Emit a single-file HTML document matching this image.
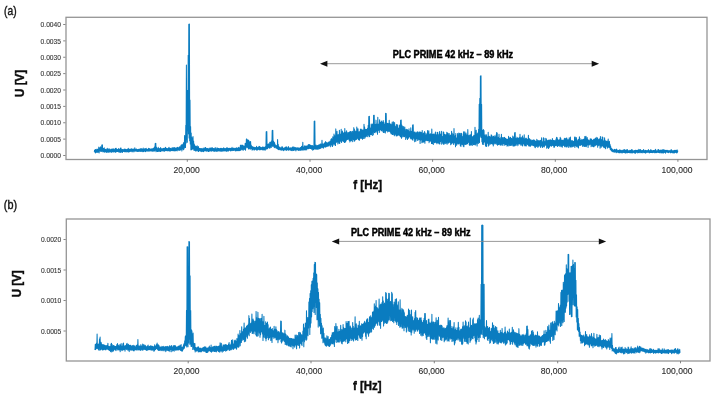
<!DOCTYPE html>
<html><head><meta charset="utf-8"><style>
html,body{margin:0;padding:0;background:#fff;}
body{width:717px;height:398px;overflow:hidden;}
svg{display:block;filter:blur(0.3px);font-family:"Liberation Sans", sans-serif;}
</style></head><body>
<svg width="717" height="398" viewBox="0 0 717 398">
<rect width="717" height="398" fill="#fff"/>
<rect x="66" y="17.3" width="641" height="142.2" fill="none" stroke="#959595" stroke-width="1.3"/>
<line x1="63.2" y1="155.5" x2="65.4" y2="155.5" stroke="#666" stroke-width="0.8"/><text x="61.00000000000001" y="158.20" font-size="7.4" text-anchor="end" fill="#383838" stroke="#383838" stroke-width="0.12" textLength="20.4" lengthAdjust="spacingAndGlyphs">0.0000</text>
<line x1="63.2" y1="139.12" x2="65.4" y2="139.12" stroke="#666" stroke-width="0.8"/><text x="61.00000000000001" y="141.82" font-size="7.4" text-anchor="end" fill="#383838" stroke="#383838" stroke-width="0.12" textLength="20.4" lengthAdjust="spacingAndGlyphs">0.0005</text>
<line x1="63.2" y1="122.75" x2="65.4" y2="122.75" stroke="#666" stroke-width="0.8"/><text x="61.00000000000001" y="125.45" font-size="7.4" text-anchor="end" fill="#383838" stroke="#383838" stroke-width="0.12" textLength="20.4" lengthAdjust="spacingAndGlyphs">0.0010</text>
<line x1="63.2" y1="106.38" x2="65.4" y2="106.38" stroke="#666" stroke-width="0.8"/><text x="61.00000000000001" y="109.08" font-size="7.4" text-anchor="end" fill="#383838" stroke="#383838" stroke-width="0.12" textLength="20.4" lengthAdjust="spacingAndGlyphs">0.0015</text>
<line x1="63.2" y1="90.0" x2="65.4" y2="90.0" stroke="#666" stroke-width="0.8"/><text x="61.00000000000001" y="92.70" font-size="7.4" text-anchor="end" fill="#383838" stroke="#383838" stroke-width="0.12" textLength="20.4" lengthAdjust="spacingAndGlyphs">0.0020</text>
<line x1="63.2" y1="73.62" x2="65.4" y2="73.62" stroke="#666" stroke-width="0.8"/><text x="61.00000000000001" y="76.32" font-size="7.4" text-anchor="end" fill="#383838" stroke="#383838" stroke-width="0.12" textLength="20.4" lengthAdjust="spacingAndGlyphs">0.0025</text>
<line x1="63.2" y1="57.25" x2="65.4" y2="57.25" stroke="#666" stroke-width="0.8"/><text x="61.00000000000001" y="59.95" font-size="7.4" text-anchor="end" fill="#383838" stroke="#383838" stroke-width="0.12" textLength="20.4" lengthAdjust="spacingAndGlyphs">0.0030</text>
<line x1="63.2" y1="40.88" x2="65.4" y2="40.88" stroke="#666" stroke-width="0.8"/><text x="61.00000000000001" y="43.58" font-size="7.4" text-anchor="end" fill="#383838" stroke="#383838" stroke-width="0.12" textLength="20.4" lengthAdjust="spacingAndGlyphs">0.0035</text>
<line x1="63.2" y1="24.5" x2="65.4" y2="24.5" stroke="#666" stroke-width="0.8"/><text x="61.00000000000001" y="27.20" font-size="7.4" text-anchor="end" fill="#383838" stroke="#383838" stroke-width="0.12" textLength="20.4" lengthAdjust="spacingAndGlyphs">0.0040</text>
<line x1="187.3" y1="159.6" x2="187.3" y2="161.79999999999998" stroke="#666" stroke-width="0.8"/><text x="186.7" y="173.2" font-size="8.3" text-anchor="middle" fill="#2a2a2a" stroke="#2a2a2a" stroke-width="0.1" textLength="26.2" lengthAdjust="spacingAndGlyphs">20,000</text>
<line x1="310.0" y1="159.6" x2="310.0" y2="161.79999999999998" stroke="#666" stroke-width="0.8"/><text x="309.2" y="173.2" font-size="8.3" text-anchor="middle" fill="#2a2a2a" stroke="#2a2a2a" stroke-width="0.1" textLength="26.2" lengthAdjust="spacingAndGlyphs">40,000</text>
<line x1="432.6" y1="159.6" x2="432.6" y2="161.79999999999998" stroke="#666" stroke-width="0.8"/><text x="431.7" y="173.2" font-size="8.3" text-anchor="middle" fill="#2a2a2a" stroke="#2a2a2a" stroke-width="0.1" textLength="26.2" lengthAdjust="spacingAndGlyphs">60,000</text>
<line x1="555.3" y1="159.6" x2="555.3" y2="161.79999999999998" stroke="#666" stroke-width="0.8"/><text x="554.2" y="173.2" font-size="8.3" text-anchor="middle" fill="#2a2a2a" stroke="#2a2a2a" stroke-width="0.1" textLength="26.2" lengthAdjust="spacingAndGlyphs">80,000</text>
<line x1="677.9" y1="159.6" x2="677.9" y2="161.79999999999998" stroke="#666" stroke-width="0.8"/><text x="677.0" y="173.2" font-size="8.3" text-anchor="middle" fill="#2a2a2a" stroke="#2a2a2a" stroke-width="0.1" textLength="30.8" lengthAdjust="spacingAndGlyphs">100,000</text>
<path d="M94.30 151.78L94.60 150.18 94.90 152.10 95.20 149.62 95.50 152.91 95.80 149.56 96.10 151.52 96.40 149.99 96.70 152.50 97.00 148.95 97.30 152.04 97.60 149.80 97.90 152.49 98.20 149.01 98.50 151.39 98.80 147.06 99.10 152.86 99.40 147.83 99.70 150.99 100.00 148.38 100.30 151.17 100.60 146.81 100.90 151.28 101.20 147.57 101.50 151.55 101.80 145.09 102.10 150.56 102.40 144.89 102.70 151.68 103.00 148.19 103.30 151.63 103.60 148.41 103.90 151.66 104.20 147.89 104.50 152.15 104.80 149.28 105.10 151.54 105.40 149.25 105.70 152.02 106.00 149.55 106.30 152.47 106.60 149.80 106.90 152.01 107.20 148.16 107.50 152.30 107.80 149.27 108.10 151.96 108.40 150.05 108.70 152.33 109.00 148.42 109.30 151.90 109.60 149.50 109.90 152.04 110.20 150.08 110.50 151.60 110.80 149.20 111.10 152.20 111.40 149.78 111.70 152.24 112.00 148.85 112.30 151.34 112.60 149.94 112.90 151.98 113.20 148.71 113.50 151.87 113.80 149.31 114.10 151.78 114.40 150.04 114.70 151.70 115.00 148.75 115.30 152.23 115.60 148.31 115.90 152.21 116.20 148.21 116.50 151.42 116.80 149.44 117.10 151.48 117.40 149.46 117.70 151.47 118.00 149.40 118.30 151.56 118.60 148.57 118.90 152.23 119.20 149.15 119.50 151.53 119.80 149.54 120.10 152.58 120.40 148.11 120.70 152.19 121.00 148.07 121.30 152.19 121.60 149.56 121.90 151.53 122.20 149.50 122.50 152.41 122.80 149.44 123.10 151.49 123.40 149.96 123.70 151.35 124.00 149.18 124.30 151.48 124.60 149.13 124.90 152.07 125.20 149.25 125.50 151.61 125.80 149.22 126.10 151.19 126.40 149.69 126.70 151.86 127.00 149.53 127.30 151.43 127.60 149.31 127.90 152.03 128.20 148.32 128.50 151.99 128.80 149.15 129.10 151.88 129.40 149.15 129.70 151.42 130.00 149.80 130.30 151.30 130.60 149.03 130.90 151.48 131.20 149.10 131.50 151.03 131.80 148.67 132.10 152.00 132.40 149.43 132.70 151.11 133.00 149.15 133.30 151.09 133.60 148.97 133.90 151.87 134.20 149.37 134.50 151.07 134.80 147.89 135.10 151.25 135.40 149.51 135.70 151.01 136.00 148.96 136.30 151.05 136.60 148.95 136.90 151.46 137.20 149.54 137.50 151.45 137.80 149.73 138.10 151.18 138.40 149.19 138.70 151.52 139.00 149.48 139.30 151.21 139.60 148.99 139.90 151.18 140.20 149.24 140.50 151.44 140.80 148.53 141.10 150.94 141.40 148.66 141.70 151.46 142.00 149.29 142.30 151.66 142.60 149.05 142.90 150.91 143.20 148.11 143.50 151.75 143.80 149.64 144.10 151.30 144.40 148.96 144.70 150.94 145.00 148.46 145.30 151.64 145.60 149.00 145.90 151.48 146.20 148.36 146.50 150.93 146.80 149.46 147.10 150.83 147.40 149.21 147.70 151.26 148.00 149.33 148.30 151.06 148.60 148.19 148.90 151.12 149.20 148.41 149.50 150.86 149.80 148.98 150.10 151.08 150.40 149.37 150.70 150.67 151.00 148.88 151.30 151.04 151.60 149.12 151.90 151.06 152.20 148.82 152.50 151.10 152.80 148.84 153.10 151.47 153.40 148.10 153.70 150.56 154.00 148.54 154.30 151.05 154.60 146.76 154.90 150.89 155.20 143.48 155.50 150.29 155.80 143.28 156.10 151.79 156.40 146.98 156.70 150.68 157.00 148.48 157.30 151.49 157.60 148.96 157.90 151.43 158.20 147.39 158.50 151.34 158.80 148.75 159.10 151.41 159.40 148.41 159.70 150.88 160.00 149.05 160.30 151.36 160.60 147.48 160.90 151.48 161.20 148.41 161.50 150.38 161.80 149.15 162.10 151.02 162.40 148.89 162.70 150.65 163.00 148.50 163.30 150.59 163.60 148.29 163.90 151.34 164.20 148.24 164.50 151.11 164.80 148.75 165.10 150.39 165.40 147.20 165.70 150.83 166.00 148.04 166.30 150.37 166.60 148.61 166.90 150.74 167.20 148.97 167.50 150.65 167.80 148.43 168.10 151.01 168.40 148.15 168.70 150.54 169.00 147.32 169.30 150.76 169.60 148.20 169.90 151.18 170.20 148.26 170.50 150.88 170.80 148.49 171.10 150.72 171.40 148.71 171.70 150.43 172.00 147.69 172.30 150.64 172.60 147.75 172.90 150.51 173.20 147.81 173.50 150.65 173.80 147.78 174.10 150.99 174.40 147.61 174.70 150.83 175.00 148.10 175.30 150.66 175.60 148.14 175.90 150.75 176.20 148.20 176.50 150.28 176.80 147.68 177.10 151.01 177.40 147.20 177.70 150.01 178.00 147.66 178.30 149.68 178.60 147.76 178.90 150.43 179.20 147.07 179.50 150.24 179.80 146.73 180.10 150.28 180.40 146.86 180.70 149.74 181.00 145.24 181.30 149.13 181.60 144.73 181.90 150.99 182.20 144.76 182.50 148.90 182.80 144.42 183.10 149.19 183.40 143.13 183.70 149.78 184.00 142.23 184.30 148.23 184.60 135.44 184.90 147.14 185.20 136.97 185.50 147.55 185.80 125.25 186.10 142.98 186.40 65.04 186.70 139.73 187.00 90.31 187.30 142.34 187.60 90.25 187.90 130.65 188.20 55.29 188.50 133.87 188.80 24.20 189.10 137.96 189.40 24.00 189.70 140.76 190.00 100.03 190.30 143.98 190.60 126.45 190.90 149.85 191.20 133.06 191.50 149.71 191.80 137.24 192.10 148.46 192.40 138.49 192.70 149.19 193.00 136.47 193.30 148.14 193.60 140.99 193.90 150.17 194.20 144.09 194.50 150.30 194.80 145.16 195.10 150.61 195.40 146.87 195.70 151.09 196.00 146.29 196.30 151.07 196.60 147.14 196.90 150.30 197.20 145.89 197.50 150.52 197.80 147.49 198.10 151.54 198.40 146.45 198.70 151.50 199.00 148.56 199.30 150.51 199.60 148.36 199.90 150.82 200.20 148.84 200.50 150.86 200.80 148.50 201.10 151.72 201.40 148.47 201.70 151.23 202.00 148.83 202.30 151.40 202.60 149.19 202.90 150.87 203.20 147.96 203.50 151.77 203.80 149.01 204.10 150.78 204.40 148.63 204.70 150.97 205.00 147.47 205.30 150.79 205.60 147.41 205.90 150.94 206.20 148.43 206.50 151.26 206.80 148.56 207.10 150.58 207.40 148.40 207.70 151.21 208.00 148.92 208.30 151.36 208.60 148.82 208.90 151.39 209.20 148.06 209.50 151.09 209.80 149.07 210.10 150.81 210.40 148.08 210.70 150.93 211.00 147.94 211.30 151.01 211.60 148.09 211.90 151.22 212.20 147.44 212.50 150.40 212.80 148.56 213.10 150.64 213.40 148.43 213.70 151.23 214.00 148.68 214.30 151.27 214.60 148.45 214.90 151.32 215.20 147.50 215.50 151.09 215.80 148.78 216.10 151.19 216.40 149.16 216.70 151.15 217.00 147.84 217.30 151.23 217.60 148.36 217.90 151.03 218.20 148.61 218.50 150.83 218.80 148.40 219.10 151.21 219.40 148.83 219.70 150.57 220.00 148.60 220.30 151.22 220.60 148.24 220.90 150.98 221.20 148.72 221.50 151.16 221.80 148.30 222.10 151.14 222.40 148.65 222.70 151.01 223.00 148.63 223.30 150.56 223.60 147.72 223.90 151.16 224.20 148.31 224.50 150.78 224.80 148.81 225.10 150.70 225.40 148.64 225.70 150.95 226.00 148.58 226.30 151.13 226.60 147.87 226.90 151.12 227.20 147.77 227.50 150.64 227.80 148.37 228.10 151.31 228.40 148.50 228.70 150.67 229.00 148.16 229.30 150.25 229.60 148.39 229.90 150.26 230.20 148.54 230.50 150.90 230.80 148.37 231.10 150.21 231.40 148.70 231.70 150.61 232.00 147.23 232.30 150.21 232.60 148.77 232.90 150.60 233.20 148.10 233.50 150.37 233.80 148.44 234.10 150.29 234.40 148.49 234.70 150.08 235.00 148.13 235.30 151.00 235.60 148.48 235.90 150.80 236.20 148.60 236.50 150.74 236.80 147.59 237.10 150.59 237.40 148.30 237.70 150.63 238.00 148.50 238.30 150.72 238.60 147.30 238.90 150.48 239.20 148.24 239.50 150.76 239.80 147.51 240.10 149.65 240.40 145.29 240.70 150.42 241.00 145.07 241.30 148.72 241.60 145.94 241.90 149.65 242.20 145.15 242.50 149.13 242.80 145.24 243.10 150.37 243.40 146.01 243.70 149.12 244.00 145.94 244.30 149.36 244.60 146.18 244.90 148.94 245.20 143.25 245.50 150.13 245.80 143.61 246.10 148.08 246.40 138.90 246.70 147.02 247.00 139.24 247.30 147.25 247.60 140.25 247.90 147.70 248.20 140.00 248.50 148.91 248.80 140.46 249.10 148.25 249.40 141.98 249.70 148.83 250.00 141.71 250.30 149.14 250.60 141.44 250.90 148.34 251.20 144.98 251.50 148.82 251.80 146.31 252.10 150.13 252.40 146.76 252.70 149.52 253.00 146.82 253.30 149.00 253.60 147.56 253.90 150.01 254.20 147.66 254.50 149.96 254.80 147.27 255.10 149.35 255.40 147.68 255.70 149.29 256.00 147.47 256.30 149.90 256.60 146.25 256.90 150.00 257.20 147.49 257.50 149.95 257.80 147.44 258.10 149.49 258.40 147.40 258.70 149.12 259.00 146.32 259.30 149.94 259.60 146.44 259.90 149.37 260.20 147.08 260.50 149.63 260.80 147.61 261.10 149.76 261.40 147.48 261.70 149.12 262.00 147.49 262.30 149.80 262.60 146.90 262.90 149.99 263.20 147.46 263.50 149.70 263.80 147.13 264.10 150.08 264.40 147.53 264.70 149.49 265.00 147.01 265.30 150.10 265.60 146.45 265.90 148.65 266.20 131.78 266.50 149.01 266.80 131.55 267.10 148.98 267.40 144.10 267.70 148.46 268.00 144.61 268.30 147.67 268.60 143.85 268.90 147.33 269.20 144.36 269.50 148.22 269.80 142.17 270.10 147.97 270.40 142.06 270.70 146.94 271.00 142.50 271.30 147.38 271.60 140.90 271.90 145.53 272.20 130.47 272.50 146.24 272.80 130.21 273.10 146.20 273.40 140.98 273.70 146.28 274.00 142.03 274.30 147.75 274.60 142.75 274.90 147.32 275.20 144.52 275.50 147.11 275.80 145.71 276.10 148.29 276.40 145.61 276.70 148.29 277.00 145.72 277.30 148.54 277.60 139.60 277.90 149.25 278.20 144.22 278.50 149.61 278.80 146.26 279.10 149.34 279.40 147.41 279.70 149.70 280.00 147.28 280.30 149.89 280.60 147.96 280.90 149.84 281.20 147.92 281.50 150.19 281.80 146.87 282.10 149.72 282.40 146.77 282.70 150.02 283.00 148.35 283.30 150.64 283.60 148.19 283.90 150.30 284.20 147.71 284.50 149.87 284.80 147.96 285.10 149.73 285.40 147.00 285.70 149.93 286.00 147.89 286.30 150.39 286.60 146.70 286.90 149.96 287.20 147.88 287.50 149.75 287.80 148.23 288.10 149.85 288.40 146.64 288.70 150.34 289.00 147.64 289.30 149.78 289.60 148.53 289.90 149.76 290.20 148.10 290.50 150.12 290.80 147.87 291.10 150.31 291.40 147.69 291.70 150.60 292.00 148.20 292.30 149.74 292.60 146.92 292.90 150.62 293.20 147.95 293.50 150.56 293.80 146.82 294.10 149.69 294.40 147.61 294.70 150.23 295.00 147.97 295.30 149.84 295.60 147.59 295.90 150.97 296.20 147.71 296.50 149.82 296.80 148.19 297.10 149.69 297.40 147.71 297.70 150.04 298.00 147.70 298.30 150.28 298.60 148.01 298.90 150.57 299.20 148.01 299.50 150.07 299.80 148.33 300.10 150.21 300.40 147.57 300.70 150.34 301.00 147.30 301.30 150.28 301.60 146.39 301.90 149.36 302.20 147.55 302.50 149.88 302.80 142.32 303.10 150.15 303.40 146.80 303.70 149.06 304.00 147.29 304.30 150.08 304.60 145.69 304.90 149.52 305.20 146.21 305.50 150.02 305.80 145.94 306.10 149.04 306.40 145.95 306.70 150.06 307.00 146.13 307.30 148.57 307.60 145.88 307.90 148.69 308.20 144.85 308.50 148.77 308.80 144.43 309.10 148.28 309.40 144.54 309.70 148.47 310.00 145.09 310.30 148.39 310.60 145.30 310.90 148.51 311.20 145.72 311.50 149.12 311.80 145.63 312.10 148.79 312.40 145.60 312.70 150.22 313.00 146.10 313.30 149.41 313.60 147.15 313.90 149.71 314.20 121.38 314.50 148.55 314.80 121.10 315.10 148.75 315.40 146.50 315.70 149.15 316.00 144.92 316.30 148.64 316.60 146.11 316.90 149.35 317.20 145.64 317.50 149.29 317.80 145.78 318.10 147.96 318.40 144.94 318.70 149.14 319.00 145.00 319.30 148.36 319.60 144.71 319.90 148.83 320.20 144.14 320.50 148.34 320.80 144.04 321.10 148.01 321.40 144.17 321.70 146.92 322.00 140.32 322.30 147.72 322.60 143.86 322.90 147.03 323.20 144.08 323.50 148.10 323.80 144.00 324.10 146.08 324.40 143.26 324.70 147.08 325.00 142.48 325.30 147.10 325.60 141.55 325.90 147.00 326.20 142.49 326.50 146.55 326.80 142.85 327.10 146.27 327.40 142.76 327.70 146.12 328.00 143.16 328.30 145.48 328.60 142.07 328.90 146.13 329.20 142.53 329.50 145.20 329.80 141.26 330.10 144.75 330.40 141.05 330.70 146.69 331.00 139.18 331.30 145.15 331.60 138.65 331.90 144.20 332.20 139.65 332.50 146.51 332.80 136.79 333.10 145.11 333.40 138.15 333.70 143.71 334.00 133.92 334.30 143.90 334.60 135.65 334.90 144.95 335.20 135.67 335.50 145.48 335.80 128.90 336.10 142.24 336.40 135.90 336.70 142.12 337.00 131.37 337.30 141.84 337.60 135.98 337.90 144.02 338.20 134.46 338.50 141.29 338.80 136.24 339.10 142.97 339.40 130.26 339.70 143.51 340.00 134.07 340.30 141.39 340.60 135.50 340.90 140.49 341.20 129.36 341.50 142.46 341.80 134.79 342.10 141.06 342.40 131.09 342.70 140.19 343.00 132.70 343.30 141.69 343.60 134.01 343.90 140.80 344.20 132.46 344.50 142.38 344.80 128.60 345.10 142.21 345.40 132.12 345.70 141.69 346.00 133.76 346.30 140.38 346.60 130.76 346.90 139.53 347.20 132.55 347.50 139.39 347.80 134.34 348.10 139.08 348.40 132.61 348.70 139.33 349.00 133.20 349.30 140.56 349.60 131.93 349.90 141.95 350.20 131.48 350.50 141.01 350.80 131.47 351.10 140.19 351.40 131.89 351.70 140.52 352.00 133.92 352.30 141.78 352.60 131.25 352.90 138.94 353.20 133.03 353.50 139.52 353.80 127.65 354.10 141.25 354.40 129.21 354.70 141.03 355.00 132.86 355.30 139.66 355.60 131.05 355.90 139.69 356.20 131.88 356.50 139.38 356.80 127.04 357.10 138.39 357.40 129.31 357.70 138.17 358.00 128.80 358.30 139.61 358.60 133.25 358.90 139.65 359.20 131.53 359.50 140.23 359.80 133.43 360.10 138.35 360.40 129.31 360.70 138.28 361.00 129.09 361.30 137.87 361.60 129.77 361.90 138.58 362.20 130.99 362.50 139.35 362.80 129.75 363.10 136.16 363.40 131.11 363.70 138.57 364.00 124.28 364.30 136.57 364.60 127.03 364.90 138.35 365.20 129.53 365.50 136.95 365.80 129.28 366.10 135.91 366.40 129.42 366.70 136.31 367.00 129.30 367.30 136.77 367.60 128.24 367.90 134.60 368.20 125.36 368.50 135.23 368.80 116.58 369.10 136.65 369.40 116.38 369.70 136.53 370.00 127.75 370.30 134.57 370.60 128.57 370.90 134.59 371.20 124.02 371.50 134.64 371.80 125.55 372.10 132.39 372.40 123.95 372.70 135.46 373.00 124.93 373.30 134.60 373.60 115.16 373.90 131.79 374.20 115.28 374.50 132.39 374.80 126.44 375.10 132.81 375.40 124.34 375.70 131.52 376.00 120.15 376.30 130.78 376.60 124.02 376.90 132.26 377.20 124.63 377.50 134.19 377.80 117.22 378.10 130.41 378.40 125.66 378.70 130.25 379.00 124.12 379.30 132.52 379.60 119.73 379.90 129.82 380.20 122.51 380.50 129.38 380.80 122.33 381.10 130.67 381.40 121.02 381.70 130.76 382.00 123.24 382.30 129.69 382.60 122.09 382.90 131.70 383.20 120.60 383.50 132.52 383.80 122.22 384.10 129.83 384.40 124.52 384.70 132.47 385.00 123.66 385.30 133.07 385.60 113.35 385.90 131.11 386.20 113.44 386.50 130.81 386.80 123.19 387.10 130.57 387.40 123.34 387.70 131.95 388.00 123.46 388.30 131.55 388.60 123.86 388.90 130.89 389.20 120.22 389.50 131.22 389.80 123.63 390.10 131.73 390.40 125.11 390.70 132.88 391.00 124.01 391.30 133.99 391.60 125.44 391.90 133.62 392.20 122.03 392.50 134.52 392.80 124.73 393.10 134.49 393.40 121.87 393.70 133.08 394.00 126.22 394.30 135.71 394.60 122.59 394.90 134.66 395.20 127.69 395.50 133.82 395.80 126.17 396.10 135.81 396.40 124.54 396.70 135.95 397.00 128.55 397.30 134.84 397.60 124.66 397.90 135.69 398.20 128.99 398.50 134.47 398.80 128.12 399.10 135.06 399.40 125.07 399.70 135.47 400.00 129.75 400.30 136.66 400.60 120.26 400.90 136.80 401.20 120.00 401.50 138.24 401.80 125.04 402.10 136.91 402.40 126.19 402.70 134.84 403.00 129.23 403.30 136.73 403.60 126.50 403.90 135.93 404.20 129.94 404.50 136.72 404.80 127.09 405.10 135.19 405.40 129.51 405.70 139.44 406.00 131.71 406.30 136.84 406.60 129.17 406.90 137.86 407.20 129.53 407.50 139.37 407.80 130.38 408.10 137.83 408.40 131.38 408.70 138.18 409.00 128.72 409.30 136.69 409.60 132.54 409.90 136.64 410.20 131.27 410.50 138.12 410.80 127.76 411.10 138.95 411.40 131.24 411.70 138.26 412.00 131.59 412.30 139.48 412.60 124.93 412.90 140.31 413.20 124.83 413.50 137.69 413.80 132.82 414.10 138.58 414.40 131.96 414.70 141.62 415.00 131.95 415.30 139.31 415.60 132.91 415.90 141.19 416.20 133.16 416.50 138.65 416.80 132.26 417.10 138.78 417.40 131.84 417.70 140.53 418.00 132.37 418.30 140.00 418.60 134.26 418.90 138.98 419.20 131.86 419.50 139.47 419.80 132.75 420.10 143.44 420.40 131.96 420.70 140.30 421.00 132.95 421.30 139.28 421.60 132.41 421.90 142.73 422.20 130.47 422.50 142.28 422.80 134.72 423.10 141.42 423.40 132.98 423.70 142.31 424.00 133.54 424.30 141.25 424.60 131.54 424.90 143.24 425.20 133.05 425.50 139.99 425.80 135.33 426.10 140.70 426.40 134.79 426.70 140.07 427.00 133.20 427.30 140.58 427.60 130.63 427.90 140.72 428.20 133.55 428.50 140.48 428.80 130.81 429.10 142.63 429.40 135.05 429.70 141.20 430.00 133.94 430.30 140.86 430.60 133.77 430.90 141.20 431.20 134.27 431.50 143.36 431.80 128.95 432.10 143.60 432.40 134.31 432.70 143.51 433.00 134.37 433.30 144.44 433.60 133.94 433.90 140.80 434.20 133.92 434.50 142.70 434.80 136.31 435.10 141.25 435.40 132.07 435.70 142.60 436.00 135.26 436.30 142.35 436.60 134.74 436.90 143.68 437.20 132.33 437.50 142.65 437.80 132.42 438.10 142.63 438.40 136.50 438.70 143.29 439.00 134.45 439.30 143.87 439.60 131.44 439.90 143.81 440.20 134.60 440.50 141.78 440.80 134.05 441.10 140.98 441.40 131.23 441.70 144.15 442.00 136.25 442.30 141.07 442.60 136.84 442.90 143.25 443.20 131.74 443.50 144.12 443.80 132.62 444.10 142.13 444.40 134.56 444.70 144.01 445.00 134.52 445.30 142.02 445.60 135.22 445.90 143.58 446.20 134.71 446.50 142.36 446.80 132.27 447.10 144.25 447.40 132.97 447.70 141.90 448.00 133.22 448.30 143.27 448.60 135.42 448.90 142.51 449.20 133.63 449.50 142.22 449.80 136.44 450.10 142.28 450.40 135.04 450.70 144.70 451.00 135.86 451.30 144.06 451.60 131.20 451.90 143.24 452.20 133.25 452.50 142.46 452.80 136.82 453.10 142.98 453.40 133.99 453.70 144.50 454.00 128.63 454.30 142.92 454.60 137.21 454.90 142.60 455.20 135.69 455.50 146.68 455.80 133.54 456.10 143.66 456.40 138.16 456.70 145.35 457.00 137.82 457.30 143.99 457.60 133.52 457.90 143.08 458.20 136.37 458.50 144.07 458.80 133.03 459.10 143.65 459.40 134.37 459.70 142.52 460.00 133.35 460.30 145.40 460.60 135.60 460.90 146.59 461.20 133.22 461.50 143.67 461.80 133.80 462.10 144.75 462.40 138.23 462.70 144.26 463.00 136.31 463.30 146.18 463.60 131.78 463.90 146.73 464.20 138.04 464.50 144.28 464.80 131.75 465.10 144.19 465.40 134.90 465.70 144.51 466.00 133.08 466.30 143.83 466.60 135.26 466.90 144.20 467.20 134.87 467.50 143.37 467.80 129.61 468.10 142.47 468.40 135.18 468.70 142.34 469.00 137.68 469.30 144.78 469.60 135.22 469.90 145.42 470.20 134.81 470.50 144.43 470.80 135.09 471.10 145.01 471.40 131.54 471.70 144.52 472.00 136.17 472.30 145.39 472.60 137.58 472.90 142.15 473.20 136.65 473.50 144.53 473.80 135.16 474.10 144.64 474.40 135.62 474.70 144.20 475.00 127.27 475.30 145.06 475.60 135.28 475.90 143.97 476.20 130.30 476.50 142.51 476.80 134.18 477.10 145.89 477.40 133.67 477.70 142.42 478.00 132.80 478.30 143.48 478.60 129.29 478.90 142.00 479.20 104.22 479.50 142.62 479.80 98.26 480.10 136.99 480.40 76.07 480.70 135.34 481.00 75.79 481.30 137.55 481.60 104.28 481.90 141.76 482.20 133.37 482.50 144.16 482.80 130.33 483.10 142.47 483.40 129.55 483.70 144.57 484.00 130.42 484.30 142.02 484.60 136.66 484.90 142.03 485.20 134.83 485.50 145.74 485.80 136.90 486.10 146.47 486.40 134.87 486.70 146.31 487.00 136.79 487.30 143.41 487.60 136.72 487.90 142.93 488.20 132.21 488.50 145.88 488.80 136.74 489.10 145.21 489.40 136.28 489.70 142.64 490.00 138.12 490.30 144.17 490.60 136.72 490.90 143.24 491.20 134.66 491.50 143.82 491.80 135.50 492.10 143.48 492.40 137.67 492.70 144.14 493.00 136.53 493.30 145.89 493.60 136.60 493.90 144.06 494.20 135.86 494.50 142.55 494.80 137.94 495.10 144.05 495.40 136.72 495.70 143.27 496.00 135.08 496.30 143.22 496.60 132.61 496.90 144.56 497.20 133.03 497.50 145.13 497.80 137.67 498.10 144.73 498.40 137.24 498.70 144.55 499.00 134.36 499.30 143.88 499.60 138.19 499.90 144.69 500.20 139.47 500.50 145.20 500.80 137.46 501.10 143.65 501.40 134.32 501.70 144.92 502.00 137.41 502.30 143.18 502.60 138.00 502.90 145.40 503.20 137.60 503.50 143.83 503.80 139.21 504.10 143.25 504.40 137.39 504.70 145.22 505.00 138.03 505.30 144.45 505.60 138.59 505.90 144.81 506.20 139.21 506.50 144.58 506.80 138.91 507.10 146.22 507.40 139.34 507.70 145.51 508.00 139.56 508.30 143.12 508.60 136.39 508.90 145.98 509.20 139.27 509.50 145.32 509.80 137.87 510.10 145.29 510.40 137.22 510.70 145.45 511.00 138.37 511.30 144.45 511.60 138.54 511.90 145.49 512.20 139.43 512.50 143.03 512.80 135.99 513.10 146.06 513.40 136.92 513.70 145.86 514.00 139.12 514.30 145.95 514.60 132.75 514.90 145.75 515.20 132.55 515.50 144.36 515.80 138.31 516.10 145.37 516.40 139.06 516.70 143.74 517.00 137.15 517.30 144.16 517.60 138.23 517.90 145.83 518.20 138.02 518.50 143.69 518.80 138.82 519.10 144.14 519.40 137.42 519.70 143.53 520.00 134.33 520.30 143.95 520.60 139.21 520.90 145.11 521.20 137.45 521.50 143.62 521.80 138.69 522.10 145.35 522.40 135.90 522.70 145.87 523.00 139.79 523.30 143.22 523.60 137.80 523.90 143.94 524.20 134.87 524.50 145.19 524.80 139.21 525.10 145.99 525.40 138.82 525.70 145.50 526.00 137.92 526.30 145.94 526.60 138.81 526.90 143.44 527.20 139.20 527.50 144.59 527.80 139.89 528.10 144.97 528.40 135.24 528.70 145.65 529.00 139.25 529.30 146.33 529.60 138.65 529.90 145.22 530.20 139.97 530.50 146.20 530.80 139.77 531.10 144.94 531.40 141.48 531.70 145.19 532.00 140.00 532.30 145.25 532.60 140.78 532.90 145.24 533.20 140.26 533.50 145.83 533.80 139.85 534.10 145.47 534.40 140.15 534.70 147.02 535.00 141.38 535.30 147.65 535.60 141.05 535.90 146.08 536.20 141.65 536.50 146.36 536.80 139.20 537.10 145.48 537.40 140.34 537.70 147.14 538.00 141.63 538.30 146.98 538.60 140.64 538.90 145.55 539.20 141.74 539.50 145.18 539.80 140.60 540.10 146.74 540.40 140.16 540.70 147.58 541.00 141.02 541.30 145.61 541.60 137.84 541.90 146.10 542.20 141.59 542.50 147.44 542.80 142.04 543.10 146.68 543.40 137.83 543.70 145.79 544.00 138.15 544.30 146.96 544.60 141.40 544.90 145.21 545.20 141.61 545.50 145.18 545.80 138.35 546.10 145.07 546.40 139.04 546.70 148.23 547.00 140.59 547.30 146.38 547.60 141.09 547.90 147.77 548.20 139.91 548.50 148.40 548.80 141.05 549.10 147.81 549.40 140.11 549.70 146.70 550.00 140.16 550.30 145.65 550.60 139.85 550.90 145.39 551.20 140.34 551.50 146.27 551.80 140.73 552.10 145.06 552.40 138.59 552.70 145.41 553.00 141.05 553.30 145.65 553.60 140.21 553.90 147.17 554.20 141.24 554.50 147.14 554.80 140.50 555.10 145.71 555.40 140.79 555.70 145.36 556.00 139.06 556.30 145.63 556.60 137.36 556.90 145.07 557.20 137.71 557.50 146.52 557.80 139.85 558.10 146.03 558.40 140.73 558.70 145.44 559.00 139.86 559.30 145.15 559.60 139.80 559.90 146.39 560.20 137.25 560.50 145.06 560.80 138.61 561.10 146.68 561.40 141.33 561.70 145.16 562.00 139.97 562.30 147.13 562.60 140.49 562.90 145.38 563.20 140.04 563.50 145.21 563.80 142.00 564.10 145.63 564.40 138.36 564.70 146.64 565.00 140.39 565.30 145.58 565.60 138.59 565.90 146.85 566.20 138.15 566.50 147.06 566.80 137.91 567.10 145.40 567.40 141.32 567.70 146.45 568.00 139.54 568.30 147.42 568.60 140.83 568.90 145.06 569.20 137.71 569.50 145.97 569.80 140.37 570.10 147.25 570.40 136.99 570.70 146.76 571.00 140.34 571.30 145.85 571.60 141.68 571.90 147.21 572.20 140.55 572.50 146.55 572.80 141.33 573.10 145.34 573.40 141.18 573.70 146.40 574.00 141.52 574.30 145.39 574.60 137.00 574.90 147.37 575.20 140.88 575.50 145.57 575.80 137.15 576.10 145.64 576.40 137.69 576.70 146.72 577.00 141.74 577.30 146.08 577.60 140.55 577.90 147.21 578.20 139.36 578.50 147.91 578.80 140.01 579.10 145.28 579.40 136.87 579.70 145.11 580.00 138.40 580.30 145.39 580.60 140.27 580.90 144.88 581.20 140.59 581.50 144.75 581.80 139.25 582.10 145.06 582.40 140.59 582.70 146.40 583.00 139.50 583.30 146.14 583.60 139.26 583.90 145.06 584.20 139.05 584.50 146.44 584.80 136.59 585.10 145.83 585.40 137.27 585.70 146.44 586.00 136.39 586.30 146.77 586.60 140.75 586.90 145.35 587.20 137.50 587.50 144.29 587.80 139.18 588.10 147.55 588.40 140.34 588.70 144.64 589.00 140.54 589.30 145.00 589.60 141.02 589.90 144.16 590.20 138.80 590.50 144.22 590.80 138.96 591.10 146.64 591.40 138.92 591.70 144.19 592.00 140.37 592.30 146.47 592.60 140.29 592.90 145.28 593.20 139.97 593.50 146.72 593.80 139.36 594.10 146.65 594.40 138.98 594.70 145.16 595.00 139.07 595.30 145.73 595.60 137.93 595.90 144.64 596.20 140.63 596.50 144.65 596.80 137.22 597.10 145.05 597.40 137.90 597.70 147.29 598.00 139.37 598.30 145.17 598.60 140.21 598.90 145.56 599.20 138.82 599.50 144.40 599.80 139.88 600.10 148.13 600.40 136.58 600.70 145.21 601.00 139.62 601.30 147.23 601.60 140.05 601.90 145.31 602.20 136.90 602.50 145.83 602.80 137.31 603.10 146.55 603.40 140.74 603.70 147.29 604.00 141.33 604.30 147.67 604.60 137.76 604.90 147.27 605.20 140.26 605.50 148.63 605.80 141.66 606.10 146.52 606.40 141.31 606.70 145.82 607.00 141.13 607.30 148.19 607.60 142.16 607.90 147.30 608.20 139.03 608.50 147.19 608.80 142.99 609.10 147.30 609.40 141.23 609.70 147.78 610.00 144.27 610.30 149.61 610.60 145.92 610.90 150.05 611.20 148.00 611.50 150.98 611.80 148.78 612.10 151.23 612.40 149.30 612.70 151.76 613.00 149.93 613.30 151.89 613.60 150.09 613.90 151.66 614.20 149.47 614.50 152.13 614.80 149.32 615.10 152.08 615.40 149.82 615.70 151.71 616.00 150.00 616.30 152.82 616.60 149.10 616.90 152.03 617.20 149.96 617.50 152.08 617.80 150.66 618.10 152.73 618.40 150.46 618.70 152.11 619.00 150.17 619.30 152.82 619.60 149.80 619.90 152.80 620.20 150.45 620.50 152.24 620.80 150.05 621.10 152.90 621.40 150.85 621.70 152.32 622.00 150.50 622.30 152.86 622.60 150.44 622.90 152.25 623.20 149.88 623.50 152.49 623.80 150.94 624.10 152.69 624.40 149.57 624.70 152.40 625.00 150.36 625.30 152.91 625.60 150.70 625.90 153.05 626.20 149.65 626.50 152.24 626.80 150.63 627.10 152.86 627.40 149.56 627.70 152.44 628.00 150.65 628.30 152.38 628.60 150.85 628.90 152.46 629.20 150.26 629.50 152.60 629.80 150.99 630.10 152.88 630.40 150.32 630.70 152.51 631.00 150.60 631.30 152.85 631.60 149.56 631.90 152.78 632.20 149.76 632.50 152.90 632.80 150.70 633.10 152.75 633.40 150.79 633.70 152.31 634.00 150.78 634.30 152.64 634.60 150.48 634.90 153.16 635.20 150.37 635.50 153.11 635.80 150.26 636.10 152.33 636.40 150.56 636.70 152.24 637.00 150.30 637.30 152.92 637.60 150.32 637.90 152.09 638.20 150.73 638.50 152.76 638.80 149.37 639.10 152.07 639.40 150.67 639.70 152.78 640.00 149.62 640.30 152.81 640.60 149.66 640.90 152.07 641.20 150.84 641.50 152.57 641.80 150.57 642.10 153.03 642.40 150.51 642.70 152.15 643.00 150.40 643.30 152.10 643.60 149.41 643.90 152.77 644.20 150.97 644.50 152.37 644.80 150.48 645.10 152.82 645.40 150.33 645.70 153.15 646.00 150.54 646.30 152.12 646.60 150.65 646.90 152.38 647.20 150.62 647.50 152.21 647.80 151.09 648.10 152.33 648.40 149.45 648.70 152.18 649.00 150.92 649.30 152.85 649.60 150.52 649.90 152.71 650.20 150.47 650.50 152.44 650.80 149.59 651.10 152.39 651.40 150.40 651.70 152.44 652.00 150.51 652.30 152.64 652.60 150.90 652.90 152.57 653.20 150.61 653.50 152.35 653.80 150.44 654.10 152.12 654.40 150.48 654.70 152.84 655.00 150.01 655.30 152.81 655.60 149.35 655.90 152.43 656.20 150.72 656.50 152.78 656.80 150.72 657.10 152.43 657.40 150.95 657.70 152.07 658.00 149.52 658.30 152.58 658.60 149.59 658.90 152.20 659.20 150.74 659.50 152.76 659.80 150.39 660.10 152.90 660.40 150.51 660.70 152.08 661.00 149.89 661.30 152.63 661.60 150.61 661.90 152.86 662.20 150.50 662.50 152.26 662.80 149.64 663.10 153.24 663.40 149.81 663.70 152.61 664.00 149.85 664.30 152.39 664.60 150.30 664.90 152.18 665.20 150.26 665.50 153.16 665.80 150.50 666.10 152.14 666.40 150.27 666.70 152.07 667.00 150.71 667.30 152.24 667.60 150.29 667.90 152.51 668.20 150.92 668.50 152.67 668.80 150.61 669.10 152.10 669.40 150.99 669.70 152.10 670.00 150.64 670.30 152.77 670.60 150.52 670.90 152.62 671.20 149.41 671.50 152.28 671.80 150.43 672.10 152.74 672.40 150.74 672.70 152.78 673.00 150.86 673.30 152.92 673.60 150.76 673.90 152.77 674.20 150.31 674.50 152.92 674.80 150.53 675.10 152.32 675.40 150.33 675.70 152.36 676.00 150.42 676.30 152.79 676.60 150.32 676.90 152.90 677.20 149.90 677.50 152.23 677.80 150.54" fill="none" stroke="#0a7cc0" stroke-width="1.05" stroke-linejoin="round"/>
<rect x="66.3" y="219" width="643.7" height="142" fill="none" stroke="#959595" stroke-width="1.3"/>
<line x1="63.5" y1="331.0" x2="65.7" y2="331.0" stroke="#666" stroke-width="0.8"/><text x="61.300000000000004" y="333.70" font-size="7.4" text-anchor="end" fill="#383838" stroke="#383838" stroke-width="0.12" textLength="20.4" lengthAdjust="spacingAndGlyphs">0.0005</text>
<line x1="63.5" y1="300.5" x2="65.7" y2="300.5" stroke="#666" stroke-width="0.8"/><text x="61.300000000000004" y="303.20" font-size="7.4" text-anchor="end" fill="#383838" stroke="#383838" stroke-width="0.12" textLength="20.4" lengthAdjust="spacingAndGlyphs">0.0010</text>
<line x1="63.5" y1="270.0" x2="65.7" y2="270.0" stroke="#666" stroke-width="0.8"/><text x="61.300000000000004" y="272.70" font-size="7.4" text-anchor="end" fill="#383838" stroke="#383838" stroke-width="0.12" textLength="20.4" lengthAdjust="spacingAndGlyphs">0.0015</text>
<line x1="63.5" y1="239.5" x2="65.7" y2="239.5" stroke="#666" stroke-width="0.8"/><text x="61.300000000000004" y="242.20" font-size="7.4" text-anchor="end" fill="#383838" stroke="#383838" stroke-width="0.12" textLength="20.4" lengthAdjust="spacingAndGlyphs">0.0020</text>
<line x1="188.2" y1="361.1" x2="188.2" y2="363.3" stroke="#666" stroke-width="0.8"/><text x="186.5" y="373.9" font-size="8.3" text-anchor="middle" fill="#2a2a2a" stroke="#2a2a2a" stroke-width="0.1" textLength="26.2" lengthAdjust="spacingAndGlyphs">20,000</text>
<line x1="311.0" y1="361.1" x2="311.0" y2="363.3" stroke="#666" stroke-width="0.8"/><text x="309.1" y="373.9" font-size="8.3" text-anchor="middle" fill="#2a2a2a" stroke="#2a2a2a" stroke-width="0.1" textLength="26.2" lengthAdjust="spacingAndGlyphs">40,000</text>
<line x1="434.3" y1="361.1" x2="434.3" y2="363.3" stroke="#666" stroke-width="0.8"/><text x="431.5" y="373.9" font-size="8.3" text-anchor="middle" fill="#2a2a2a" stroke="#2a2a2a" stroke-width="0.1" textLength="26.2" lengthAdjust="spacingAndGlyphs">60,000</text>
<line x1="557.7" y1="361.1" x2="557.7" y2="363.3" stroke="#666" stroke-width="0.8"/><text x="553.9" y="373.9" font-size="8.3" text-anchor="middle" fill="#2a2a2a" stroke="#2a2a2a" stroke-width="0.1" textLength="26.2" lengthAdjust="spacingAndGlyphs">80,000</text>
<line x1="680.5" y1="361.1" x2="680.5" y2="363.3" stroke="#666" stroke-width="0.8"/><text x="677.0" y="373.9" font-size="8.3" text-anchor="middle" fill="#2a2a2a" stroke="#2a2a2a" stroke-width="0.1" textLength="30.8" lengthAdjust="spacingAndGlyphs">100,000</text>
<path d="M95.00 350.01L95.30 344.17 95.60 349.60 95.90 344.22 96.20 348.75 96.50 343.12 96.80 348.16 97.10 333.97 97.40 348.72 97.70 344.44 98.00 347.56 98.30 343.95 98.60 350.00 98.90 343.94 99.20 347.40 99.50 339.01 99.80 350.22 100.10 337.05 100.40 349.66 100.70 342.13 101.00 349.81 101.30 342.68 101.60 348.39 101.90 344.62 102.20 349.53 102.50 344.88 102.80 350.29 103.10 344.41 103.40 349.54 103.70 344.95 104.00 349.68 104.30 345.23 104.60 349.11 104.90 345.15 105.20 349.47 105.50 345.83 105.80 349.88 106.10 346.16 106.40 349.27 106.70 345.63 107.00 349.00 107.30 345.20 107.60 349.23 107.90 343.38 108.20 349.40 108.50 346.57 108.80 349.89 109.10 346.35 109.40 350.60 109.70 346.76 110.00 349.57 110.30 346.63 110.60 351.68 110.90 344.10 111.20 350.47 111.50 343.31 111.80 351.98 112.10 344.50 112.40 349.54 112.70 346.56 113.00 351.35 113.30 345.45 113.60 350.64 113.90 345.50 114.20 349.79 114.50 346.15 114.80 349.06 115.10 346.53 115.40 350.01 115.70 346.49 116.00 350.76 116.30 345.97 116.60 348.89 116.90 344.46 117.20 348.92 117.50 343.41 117.80 349.86 118.10 345.07 118.40 349.32 118.70 345.68 119.00 350.09 119.30 346.26 119.60 349.69 119.90 344.50 120.20 351.67 120.50 346.59 120.80 349.21 121.10 343.62 121.40 349.77 121.70 346.35 122.00 350.65 122.30 345.94 122.60 349.87 122.90 343.81 123.20 349.89 123.50 343.11 123.80 349.58 124.10 345.65 124.40 349.43 124.70 346.80 125.00 351.19 125.30 345.55 125.60 348.89 125.90 345.86 126.20 349.27 126.50 344.05 126.80 349.59 127.10 343.19 127.40 349.24 127.70 345.89 128.00 350.35 128.30 344.34 128.60 349.01 128.90 345.12 129.20 351.60 129.50 345.47 129.80 349.84 130.10 345.36 130.40 349.38 130.70 345.17 131.00 350.42 131.30 346.25 131.60 349.30 131.90 346.05 132.20 350.14 132.50 345.49 132.80 349.03 133.10 346.62 133.40 350.80 133.70 345.33 134.00 351.00 134.30 345.81 134.60 350.09 134.90 346.76 135.20 349.82 135.50 346.82 135.80 349.76 136.10 345.61 136.40 349.66 136.70 345.52 137.00 350.20 137.30 344.43 137.60 348.90 137.90 339.56 138.20 349.66 138.50 345.72 138.80 350.02 139.10 346.57 139.40 350.07 139.70 345.90 140.00 349.21 140.30 346.15 140.60 350.43 140.90 344.65 141.20 350.00 141.50 345.96 141.80 348.87 142.10 346.23 142.40 350.31 142.70 344.12 143.00 350.09 143.30 346.26 143.60 349.16 143.90 344.43 144.20 349.55 144.50 346.42 144.80 349.18 145.10 345.33 145.40 349.63 145.70 346.04 146.00 349.63 146.30 346.71 146.60 350.54 146.90 346.86 147.20 350.06 147.50 346.14 147.80 350.12 148.10 345.09 148.40 349.46 148.70 347.19 149.00 349.75 149.30 346.32 149.60 349.46 149.90 346.65 150.20 349.90 150.50 345.84 150.80 348.97 151.10 346.18 151.40 350.13 151.70 345.93 152.00 349.00 152.30 346.33 152.60 350.22 152.90 346.65 153.20 349.22 153.50 346.69 153.80 351.24 154.10 346.56 154.40 350.90 154.70 344.68 155.00 349.32 155.30 346.05 155.60 349.67 155.90 345.92 156.20 348.58 156.50 344.58 156.80 348.54 157.10 343.13 157.40 349.30 157.70 344.73 158.00 350.08 158.30 344.74 158.60 350.40 158.90 345.16 159.20 350.54 159.50 346.70 159.80 350.20 160.10 347.07 160.40 349.58 160.70 346.95 161.00 350.70 161.30 347.46 161.60 349.35 161.90 346.39 162.20 350.69 162.50 346.85 162.80 349.67 163.10 347.20 163.40 350.30 163.70 346.36 164.00 351.06 164.30 346.99 164.60 349.69 164.90 347.25 165.20 350.25 165.50 346.53 165.80 351.65 166.10 346.51 166.40 349.49 166.70 347.08 167.00 350.50 167.30 346.24 167.60 349.90 167.90 347.10 168.20 350.61 168.50 346.79 168.80 350.84 169.10 346.90 169.40 349.93 169.70 345.65 170.00 351.74 170.30 346.30 170.60 349.39 170.90 347.63 171.20 349.43 171.50 345.57 171.80 351.78 172.10 347.52 172.40 350.70 172.70 346.72 173.00 349.48 173.30 345.47 173.60 350.73 173.90 346.55 174.20 351.33 174.50 345.57 174.80 349.42 175.10 345.42 175.40 349.86 175.70 346.25 176.00 350.41 176.30 347.27 176.60 349.41 176.90 347.18 177.20 349.85 177.50 346.85 177.80 349.88 178.10 346.66 178.40 350.00 178.70 346.12 179.00 349.60 179.30 346.52 179.60 349.28 179.90 345.39 180.20 350.17 180.50 346.40 180.80 350.38 181.10 344.50 181.40 350.57 181.70 347.46 182.00 351.47 182.30 347.17 182.60 350.79 182.90 346.75 183.20 349.42 183.50 344.84 183.80 348.56 184.10 343.57 184.40 348.12 184.70 340.66 185.00 345.92 185.30 336.44 185.60 344.94 185.90 335.17 186.20 345.70 186.50 310.35 186.80 346.92 187.10 246.74 187.40 344.71 187.70 246.65 188.00 346.80 188.30 285.44 188.60 342.88 188.90 241.61 189.20 339.33 189.50 241.77 189.80 344.30 190.10 275.70 190.40 343.88 190.70 310.40 191.00 346.13 191.30 329.55 191.60 346.37 191.90 330.79 192.20 344.68 192.50 334.56 192.80 349.56 193.10 332.98 193.40 346.92 193.70 342.92 194.00 349.22 194.30 343.76 194.60 349.86 194.90 343.60 195.20 351.91 195.50 347.22 195.80 350.23 196.10 347.66 196.40 351.13 196.70 348.45 197.00 350.32 197.30 347.10 197.60 350.74 197.90 348.09 198.20 352.05 198.50 346.71 198.80 351.81 199.10 348.45 199.40 351.48 199.70 348.11 200.00 352.04 200.30 348.10 200.60 351.11 200.90 348.46 201.20 351.85 201.50 349.06 201.80 351.23 202.10 347.98 202.40 350.47 202.70 348.38 203.00 350.96 203.30 347.30 203.60 351.23 203.90 347.99 204.20 350.83 204.50 346.86 204.80 351.59 205.10 347.60 205.40 350.59 205.70 346.70 206.00 352.38 206.30 348.29 206.60 352.55 206.90 348.06 207.20 352.52 207.50 348.06 207.80 352.11 208.10 347.91 208.40 351.23 208.70 347.55 209.00 350.76 209.30 345.97 209.60 350.52 209.90 347.44 210.20 351.53 210.50 347.63 210.80 351.20 211.10 344.96 211.40 352.16 211.70 348.30 212.00 350.87 212.30 347.22 212.60 351.34 212.90 346.86 213.20 350.89 213.50 346.85 213.80 351.22 214.10 346.31 214.40 351.57 214.70 346.29 215.00 351.51 215.30 347.58 215.60 351.16 215.90 345.99 216.20 351.88 216.50 346.21 216.80 351.27 217.10 346.84 217.40 350.06 217.70 346.64 218.00 350.76 218.30 346.55 218.60 351.60 218.90 346.02 219.20 351.28 219.50 345.89 219.80 352.30 220.10 342.77 220.40 350.26 220.70 346.67 221.00 351.26 221.30 343.24 221.60 350.24 221.90 346.71 222.20 352.22 222.50 346.75 222.80 349.97 223.10 344.79 223.40 351.19 223.70 346.14 224.00 350.53 224.30 344.84 224.60 350.38 224.90 345.81 225.20 350.10 225.50 344.57 225.80 351.11 226.10 344.50 226.40 350.37 226.70 345.52 227.00 350.59 227.30 345.57 227.60 349.37 227.90 345.40 228.20 348.75 228.50 343.91 228.80 349.62 229.10 342.44 229.40 350.54 229.70 344.97 230.00 348.34 230.30 345.35 230.60 349.91 230.90 343.98 231.20 347.93 231.50 340.25 231.80 349.73 232.10 344.61 232.40 347.74 232.70 339.70 233.00 348.61 233.30 344.37 233.60 349.48 233.90 343.85 234.20 348.56 234.50 340.83 234.80 347.76 235.10 339.98 235.40 348.05 235.70 341.10 236.00 348.05 236.30 341.96 236.60 349.24 236.90 338.57 237.20 347.12 237.50 339.11 237.80 346.42 238.10 333.94 238.40 347.18 238.70 335.87 239.00 346.78 239.30 335.43 239.60 342.74 239.90 330.57 240.20 345.78 240.50 334.70 240.80 342.85 241.10 333.23 241.40 342.39 241.70 326.80 242.00 340.59 242.30 332.46 242.60 338.04 242.90 331.41 243.20 339.73 243.50 328.92 243.80 339.12 244.10 323.09 244.40 341.72 244.70 329.05 245.00 338.41 245.30 327.84 245.60 341.16 245.90 328.59 246.20 336.94 246.50 326.33 246.80 334.79 247.10 325.90 247.40 338.23 247.70 325.41 248.00 334.94 248.30 323.98 248.60 333.28 248.90 315.65 249.20 335.82 249.50 318.61 249.80 330.96 250.10 324.77 250.40 332.54 250.70 323.47 251.00 330.31 251.30 322.70 251.60 331.23 251.90 314.12 252.20 333.39 252.50 321.94 252.80 333.30 253.10 319.13 253.40 331.55 253.70 320.88 254.00 333.79 254.30 323.70 254.60 330.66 254.90 321.22 255.20 331.20 255.50 320.93 255.80 334.74 256.10 311.40 256.40 335.41 256.70 317.76 257.00 336.51 257.30 322.12 257.60 330.92 257.90 312.15 258.20 335.63 258.50 318.18 258.80 330.93 259.10 319.68 259.40 332.94 259.70 318.45 260.00 337.32 260.30 318.41 260.60 334.72 260.90 321.91 261.20 331.51 261.50 318.24 261.80 331.87 262.10 314.27 262.40 333.85 262.70 321.54 263.00 340.46 263.30 322.25 263.60 336.99 263.90 316.21 264.20 334.28 264.50 325.31 264.80 337.56 265.10 325.55 265.40 338.27 265.70 321.88 266.00 340.86 266.30 323.85 266.60 338.17 266.90 323.21 267.20 337.39 267.50 321.93 267.80 335.24 268.10 324.83 268.40 339.68 268.70 329.00 269.00 337.48 269.30 328.80 269.60 337.94 269.90 327.76 270.20 336.00 270.50 326.96 270.80 340.52 271.10 329.24 271.40 336.32 271.70 329.90 272.00 342.52 272.30 328.42 272.60 337.02 272.90 330.48 273.20 336.58 273.50 331.29 273.80 338.30 274.10 326.39 274.40 336.82 274.70 329.97 275.00 337.87 275.30 329.22 275.60 337.07 275.90 326.72 276.20 339.68 276.50 329.73 276.80 339.73 277.10 330.89 277.40 337.85 277.70 332.51 278.00 342.63 278.30 331.83 278.60 338.43 278.90 331.47 279.20 339.72 279.50 332.81 279.80 338.75 280.10 332.97 280.40 338.46 280.70 321.05 281.00 341.77 281.30 321.32 281.60 343.07 281.90 332.99 282.20 341.64 282.50 332.85 282.80 340.18 283.10 332.91 283.40 340.09 283.70 334.09 284.00 341.06 284.30 333.71 284.60 341.44 284.90 330.15 285.20 344.53 285.50 333.90 285.80 342.71 286.10 334.78 286.40 344.85 286.70 337.70 287.00 344.92 287.30 335.72 287.60 342.77 287.90 336.28 288.20 345.45 288.50 337.35 288.80 345.86 289.10 338.99 289.40 346.14 289.70 338.25 290.00 344.77 290.30 339.20 290.60 346.40 290.90 338.26 291.20 347.02 291.50 338.49 291.80 344.85 292.10 339.95 292.40 345.37 292.70 338.84 293.00 348.67 293.30 338.99 293.60 345.66 293.90 338.97 294.20 345.88 294.50 339.68 294.80 347.31 295.10 334.93 295.40 344.78 295.70 337.90 296.00 345.30 296.30 334.93 296.60 348.71 296.90 337.63 297.20 344.42 297.50 335.53 297.80 344.87 298.10 339.32 298.40 345.49 298.70 332.48 299.00 343.77 299.30 332.27 299.60 347.96 299.90 339.13 300.20 343.78 300.50 332.67 300.80 342.89 301.10 334.79 301.40 344.27 301.70 334.87 302.00 345.41 302.30 335.23 302.60 341.39 302.90 331.11 303.20 339.69 303.50 324.08 303.80 346.76 304.10 328.16 304.40 341.74 304.70 327.79 305.00 339.82 305.30 323.10 305.60 337.62 305.90 323.17 306.20 340.19 306.50 310.73 306.80 339.20 307.10 319.30 307.40 334.52 307.70 317.48 308.00 335.68 308.30 317.51 308.60 328.00 308.90 301.97 309.20 324.85 309.50 298.44 309.80 334.57 310.10 293.55 310.40 327.30 310.70 290.89 311.00 323.04 311.30 284.78 311.60 316.87 311.90 281.33 312.20 311.52 312.50 281.14 312.80 308.77 313.10 278.17 313.40 306.86 313.70 273.08 314.00 312.43 314.30 264.50 314.60 306.46 314.90 262.20 315.20 314.45 315.50 262.59 315.80 302.58 316.10 273.83 316.40 307.58 316.70 274.63 317.00 319.66 317.30 282.98 317.60 319.27 317.90 288.66 318.20 327.11 318.50 292.43 318.80 320.96 319.10 299.21 319.40 325.75 319.70 302.86 320.00 326.25 320.30 314.31 320.60 333.82 320.90 318.23 321.20 332.93 321.50 323.19 321.80 338.23 322.10 325.72 322.40 337.38 322.70 329.76 323.00 342.78 323.30 328.08 323.60 340.96 323.90 333.35 324.20 342.25 324.50 338.06 324.80 344.24 325.10 337.87 325.40 345.69 325.70 338.65 326.00 344.69 326.30 339.15 326.60 346.19 326.90 335.77 327.20 345.08 327.50 338.73 327.80 345.17 328.10 336.41 328.40 345.65 328.70 340.61 329.00 346.18 329.30 339.27 329.60 346.53 329.90 339.62 330.20 345.50 330.50 337.82 330.80 344.20 331.10 337.19 331.40 342.53 331.70 335.05 332.00 343.72 332.30 332.49 332.60 343.48 332.90 333.69 333.20 343.89 333.50 332.61 333.80 342.82 334.10 331.96 334.40 346.59 334.70 326.42 335.00 342.07 335.30 332.36 335.60 338.65 335.90 323.43 336.20 339.40 336.50 329.43 336.80 342.55 337.10 326.40 337.40 341.13 337.70 331.75 338.00 341.71 338.30 331.98 338.60 341.94 338.90 329.25 339.20 338.26 339.50 331.76 339.80 342.10 340.10 330.94 340.40 338.67 340.70 325.16 341.00 340.97 341.30 331.08 341.60 343.16 341.90 329.47 342.20 343.85 342.50 330.54 342.80 341.41 343.10 324.55 343.40 341.01 343.70 327.86 344.00 341.16 344.30 329.12 344.60 340.36 344.90 328.57 345.20 339.57 345.50 328.28 345.80 341.85 346.10 321.49 346.40 338.12 346.70 323.61 347.00 339.02 347.30 323.63 347.60 343.37 347.90 321.53 348.20 342.38 348.50 321.65 348.80 342.72 349.10 321.32 349.40 340.61 349.70 330.68 350.00 340.30 350.30 326.03 350.60 337.62 350.90 327.87 351.20 338.40 351.50 330.46 351.80 340.52 352.10 327.97 352.40 339.20 352.70 322.50 353.00 339.23 353.30 326.46 353.60 340.94 353.90 329.36 354.20 338.25 354.50 327.86 354.80 337.98 355.10 316.66 355.40 339.93 355.70 323.96 356.00 339.68 356.30 323.78 356.60 339.40 356.90 327.94 357.20 338.49 357.50 328.96 357.80 340.50 358.10 325.15 358.40 335.04 358.70 328.70 359.00 335.07 359.30 321.36 359.60 337.17 359.90 326.57 360.20 338.51 360.50 325.67 360.80 338.21 361.10 326.19 361.40 334.19 361.70 323.84 362.00 340.25 362.30 324.23 362.60 336.37 362.90 324.42 363.20 333.29 363.50 323.78 363.80 332.96 364.10 322.75 364.40 331.80 364.70 321.34 365.00 331.94 365.30 322.93 365.60 336.22 365.90 322.96 366.20 338.68 366.50 319.95 366.80 332.74 367.10 319.01 367.40 332.81 367.70 318.85 368.00 333.96 368.30 322.73 368.60 336.20 368.90 322.39 369.20 333.21 369.50 316.79 369.80 332.50 370.10 318.26 370.40 332.06 370.70 315.80 371.00 327.58 371.30 317.96 371.60 331.87 371.90 317.44 372.20 325.60 372.50 312.02 372.80 328.59 373.10 313.14 373.40 329.14 373.70 311.03 374.00 325.83 374.30 303.67 374.60 327.28 374.90 308.27 375.20 325.48 375.50 306.05 375.80 323.90 376.10 300.50 376.40 323.26 376.70 307.50 377.00 322.55 377.30 307.74 377.60 325.16 377.90 309.08 378.20 320.42 378.50 308.77 378.80 321.65 379.10 298.99 379.40 325.29 379.70 309.70 380.00 321.43 380.30 304.70 380.60 328.36 380.90 304.03 381.20 321.47 381.50 304.31 381.80 321.49 382.10 302.28 382.40 319.62 382.70 296.81 383.00 320.48 383.30 301.03 383.60 325.92 383.90 305.21 384.20 321.57 384.50 303.13 384.80 323.15 385.10 304.43 385.40 322.40 385.70 292.60 386.00 322.23 386.30 293.29 386.60 323.58 386.90 299.38 387.20 323.21 387.50 301.90 387.80 322.10 388.10 298.99 388.40 320.18 388.70 293.29 389.00 319.56 389.30 293.40 389.60 315.48 389.90 304.10 390.20 320.76 390.50 301.40 390.80 316.68 391.10 301.99 391.40 320.39 391.70 292.16 392.00 319.10 392.30 293.84 392.60 321.42 392.90 304.57 393.20 320.74 393.50 308.22 393.80 322.63 394.10 302.13 394.40 317.65 394.70 304.54 395.00 320.54 395.30 299.27 395.60 321.23 395.90 303.72 396.20 322.30 396.50 298.75 396.80 324.47 397.10 306.66 397.40 321.79 397.70 304.92 398.00 320.16 398.30 301.76 398.60 325.37 398.90 309.71 399.20 323.50 399.50 310.93 399.80 327.15 400.10 299.72 400.40 325.97 400.70 309.76 401.00 326.72 401.30 313.52 401.60 323.63 401.90 308.39 402.20 328.31 402.50 310.03 402.80 327.77 403.10 309.54 403.40 323.52 403.70 310.74 404.00 330.72 404.30 312.87 404.60 323.33 404.90 316.58 405.20 327.45 405.50 316.61 405.80 324.00 406.10 317.77 406.40 332.00 406.70 316.72 407.00 327.03 407.30 315.16 407.60 325.29 407.90 316.62 408.20 331.05 408.50 308.99 408.80 327.94 409.10 319.02 409.40 331.52 409.70 310.32 410.00 326.99 410.30 314.51 410.60 331.99 410.90 320.09 411.20 335.04 411.50 310.02 411.80 332.34 412.10 320.14 412.40 327.29 412.70 316.85 413.00 330.08 413.30 320.48 413.60 327.70 413.90 321.10 414.20 333.34 414.50 318.41 414.80 329.68 415.10 312.38 415.40 331.23 415.70 310.57 416.00 329.13 416.30 317.19 416.60 329.14 416.90 320.64 417.20 330.99 417.50 317.96 417.80 331.10 418.10 320.44 418.40 329.42 418.70 320.87 419.00 329.19 419.30 318.74 419.60 333.53 419.90 317.86 420.20 332.50 420.50 318.93 420.80 335.27 421.10 317.75 421.40 332.54 421.70 320.83 422.00 335.88 422.30 322.76 422.60 334.96 422.90 322.44 423.20 335.47 423.50 320.59 423.80 333.11 424.10 318.32 424.40 333.05 424.70 313.62 425.00 332.61 425.30 313.63 425.60 334.78 425.90 322.45 426.20 337.97 426.50 320.45 426.80 339.54 427.10 324.20 427.40 336.59 427.70 324.32 428.00 333.93 428.30 319.59 428.60 336.34 428.90 319.09 429.20 333.98 429.50 322.81 429.80 336.37 430.10 323.72 430.40 342.68 430.70 323.02 431.00 337.21 431.30 321.78 431.60 338.50 431.90 314.29 432.20 339.34 432.50 324.60 432.80 339.09 433.10 322.13 433.40 338.45 433.70 321.96 434.00 339.52 434.30 324.46 434.60 336.64 434.90 322.46 435.20 338.98 435.50 322.32 435.80 343.33 436.10 317.81 436.40 339.82 436.70 327.85 437.00 344.01 437.30 320.27 437.60 338.81 437.90 325.20 438.20 339.96 438.50 317.29 438.80 334.83 439.10 325.31 439.40 336.32 439.70 325.85 440.00 335.43 440.30 325.86 440.60 339.79 440.90 324.99 441.20 336.30 441.50 325.51 441.80 340.50 442.10 326.08 442.40 336.69 442.70 328.19 443.00 337.60 443.30 329.25 443.60 336.27 443.90 327.48 444.20 341.75 444.50 329.39 444.80 340.48 445.10 328.63 445.40 339.73 445.70 328.66 446.00 338.64 446.30 327.66 446.60 339.14 446.90 325.83 447.20 340.94 447.50 325.57 447.80 336.21 448.10 318.07 448.40 340.55 448.70 322.77 449.00 341.16 449.30 320.61 449.60 337.77 449.90 327.20 450.20 339.10 450.50 320.53 450.80 337.67 451.10 326.32 451.40 338.41 451.70 328.46 452.00 341.40 452.30 329.18 452.60 338.32 452.90 326.66 453.20 340.87 453.50 329.33 453.80 338.28 454.10 322.54 454.40 344.85 454.70 329.68 455.00 342.89 455.30 329.48 455.60 340.49 455.90 327.66 456.20 339.64 456.50 330.61 456.80 339.31 457.10 330.59 457.40 337.11 457.70 327.73 458.00 339.96 458.30 322.30 458.60 337.30 458.90 327.18 459.20 338.97 459.50 330.80 459.80 341.11 460.10 331.04 460.40 338.16 460.70 329.27 461.00 341.50 461.30 328.96 461.60 343.95 461.90 329.89 462.20 344.60 462.50 326.89 462.80 343.36 463.10 321.99 463.40 336.46 463.70 327.77 464.00 338.27 464.30 325.88 464.60 341.31 464.90 329.04 465.20 341.43 465.50 320.70 465.80 338.32 466.10 322.05 466.40 341.48 466.70 326.52 467.00 343.18 467.30 327.35 467.60 342.79 467.90 325.89 468.20 344.07 468.50 322.02 468.80 337.38 469.10 327.76 469.40 336.42 469.70 327.45 470.00 342.36 470.30 318.04 470.60 340.81 470.90 326.96 471.20 339.76 471.50 325.18 471.80 337.59 472.10 329.37 472.40 338.35 472.70 319.70 473.00 338.70 473.30 318.03 473.60 335.72 473.90 325.16 474.20 335.27 474.50 323.81 474.80 337.69 475.10 324.46 475.40 340.98 475.70 323.66 476.00 343.95 476.30 323.59 476.60 341.91 476.90 325.01 477.20 339.53 477.50 319.79 477.80 335.03 478.10 318.11 478.40 337.53 478.70 324.06 479.00 341.58 479.30 315.20 479.60 336.14 479.90 319.85 480.20 337.60 480.50 322.87 480.80 334.04 481.10 284.21 481.40 333.16 481.70 225.15 482.00 334.50 482.30 225.13 482.60 329.19 482.90 225.18 483.20 337.38 483.50 284.41 483.80 335.68 484.10 284.31 484.40 338.76 484.70 326.20 485.00 335.29 485.30 327.85 485.60 336.54 485.90 328.60 486.20 335.62 486.50 320.48 486.80 336.22 487.10 326.33 487.40 339.61 487.70 326.84 488.00 340.37 488.30 328.22 488.60 338.39 488.90 328.44 489.20 338.08 489.50 327.30 489.80 343.31 490.10 331.35 490.40 342.49 490.70 331.67 491.00 338.01 491.30 328.33 491.60 339.66 491.90 329.55 492.20 341.07 492.50 322.81 492.80 338.42 493.10 330.24 493.40 343.45 493.70 325.17 494.00 343.29 494.30 331.65 494.60 342.16 494.90 327.93 495.20 338.24 495.50 326.54 495.80 342.18 496.10 331.35 496.40 338.99 496.70 327.25 497.00 343.79 497.30 333.20 497.60 339.17 497.90 330.72 498.20 343.94 498.50 333.44 498.80 342.80 499.10 334.38 499.40 340.06 499.70 333.39 500.00 341.89 500.30 330.27 500.60 342.48 500.90 332.46 501.20 342.99 501.50 332.64 501.80 342.34 502.10 328.40 502.40 341.68 502.70 333.09 503.00 340.73 503.30 333.39 503.60 343.26 503.90 335.01 504.20 340.43 504.50 332.21 504.80 343.07 505.10 327.10 505.40 345.06 505.70 331.97 506.00 343.05 506.30 333.75 506.60 343.93 506.90 334.31 507.20 342.67 507.50 331.04 507.80 339.51 508.10 332.74 508.40 339.45 508.70 332.48 509.00 340.07 509.30 328.93 509.60 340.89 509.90 333.46 510.20 344.39 510.50 333.34 510.80 343.46 511.10 332.30 511.40 341.43 511.70 332.50 512.00 341.51 512.30 327.20 512.60 344.24 512.90 334.96 513.20 341.90 513.50 329.89 513.80 340.97 514.10 332.08 514.40 343.10 514.70 333.26 515.00 344.83 515.30 332.60 515.60 342.06 515.90 334.34 516.20 346.07 516.50 333.14 516.80 346.77 517.10 334.09 517.40 346.74 517.70 333.57 518.00 347.44 518.30 335.11 518.60 343.37 518.90 328.65 519.20 345.44 519.50 334.18 519.80 344.58 520.10 335.07 520.40 345.10 520.70 336.23 521.00 341.82 521.30 336.36 521.60 345.31 521.90 335.08 522.20 343.20 522.50 335.27 522.80 345.42 523.10 334.29 523.40 343.97 523.70 335.54 524.00 342.39 524.30 337.21 524.60 342.66 524.90 335.02 525.20 343.57 525.50 335.43 525.80 344.39 526.10 333.82 526.40 343.75 526.70 326.20 527.00 345.76 527.30 326.03 527.60 345.30 527.90 329.54 528.20 345.96 528.50 336.83 528.80 348.12 529.10 336.04 529.40 348.88 529.70 336.40 530.00 346.09 530.30 334.81 530.60 343.02 530.90 335.21 531.20 343.84 531.50 331.08 531.80 344.47 532.10 335.39 532.40 344.76 532.70 330.57 533.00 345.56 533.30 332.21 533.60 345.35 533.90 334.93 534.20 344.22 534.50 337.13 534.80 345.43 535.10 335.86 535.40 342.75 535.70 335.13 536.00 347.11 536.30 335.92 536.60 343.18 536.90 335.61 537.20 345.80 537.50 331.83 537.80 346.28 538.10 335.41 538.40 343.79 538.70 337.17 539.00 343.59 539.30 335.99 539.60 346.24 539.90 336.71 540.20 345.42 540.50 337.33 540.80 344.34 541.10 337.16 541.40 345.58 541.70 336.54 542.00 342.48 542.30 335.53 542.60 341.64 542.90 335.72 543.20 341.69 543.50 334.45 543.80 341.70 544.10 330.89 544.40 345.23 544.70 334.67 545.00 344.64 545.30 334.31 545.60 342.20 545.90 330.21 546.20 341.39 546.50 333.08 546.80 341.44 547.10 331.97 547.40 340.65 547.70 326.48 548.00 340.89 548.30 333.54 548.60 340.32 548.90 324.98 549.20 337.66 549.50 332.13 549.80 341.32 550.10 330.00 550.40 343.17 550.70 323.09 551.00 335.76 551.30 327.68 551.60 336.51 551.90 322.46 552.20 335.02 552.50 321.83 552.80 340.38 553.10 323.83 553.40 335.30 553.70 324.66 554.00 339.50 554.30 321.28 554.60 332.69 554.90 323.71 555.20 334.67 555.50 322.81 555.80 330.07 556.10 311.03 556.40 329.35 556.70 311.68 557.00 331.04 557.30 310.65 557.60 324.86 557.90 313.28 558.20 324.83 558.50 303.44 558.80 325.92 559.10 307.11 559.40 320.83 559.70 309.27 560.00 323.06 560.30 304.92 560.60 326.56 560.90 292.42 561.20 320.91 561.50 290.58 561.80 325.47 562.10 290.07 562.40 320.87 562.70 290.96 563.00 322.83 563.30 282.39 563.60 319.57 563.90 285.01 564.20 321.43 564.50 275.53 564.80 312.17 565.10 274.32 565.40 312.17 565.70 273.82 566.00 307.90 566.30 264.89 566.60 305.91 566.90 268.84 567.20 302.00 567.50 269.98 567.80 294.40 568.10 254.38 568.40 293.40 568.70 254.45 569.00 301.29 569.30 273.25 569.60 314.59 569.90 272.68 570.20 301.39 570.50 273.04 570.80 314.21 571.10 266.40 571.40 316.81 571.70 266.43 572.00 316.41 572.30 265.69 572.60 297.66 572.90 260.03 573.20 304.66 573.50 264.51 573.80 296.92 574.10 268.82 574.40 305.92 574.70 262.45 575.00 305.37 575.30 262.47 575.60 306.21 575.90 280.29 576.20 317.04 576.50 294.65 576.80 321.95 577.10 306.76 577.40 329.66 577.70 309.58 578.00 330.13 578.30 318.28 578.60 331.43 578.90 323.42 579.20 336.23 579.50 327.46 579.80 336.26 580.10 332.12 580.40 340.50 580.70 334.86 581.00 343.31 581.30 336.05 581.60 340.00 581.90 335.37 582.20 343.09 582.50 336.04 582.80 342.64 583.10 336.71 583.40 340.61 583.70 335.14 584.00 342.10 584.30 336.76 584.60 345.65 584.90 337.70 585.20 343.43 585.50 331.48 585.80 344.57 586.10 338.22 586.40 344.07 586.70 334.41 587.00 343.11 587.30 336.59 587.60 344.25 587.90 338.09 588.20 344.86 588.50 337.33 588.80 343.73 589.10 336.51 589.40 347.28 589.70 334.75 590.00 343.94 590.30 336.42 590.60 343.87 590.90 339.32 591.20 345.75 591.50 333.57 591.80 345.61 592.10 336.47 592.40 343.92 592.70 338.48 593.00 347.76 593.30 337.26 593.60 344.86 593.90 333.20 594.20 344.94 594.50 338.08 594.80 346.11 595.10 339.48 595.40 345.69 595.70 338.77 596.00 345.57 596.30 339.67 596.60 345.04 596.90 334.37 597.20 345.31 597.50 339.67 597.80 346.48 598.10 337.58 598.40 345.46 598.70 338.01 599.00 346.74 599.30 335.02 599.60 345.23 599.90 337.60 600.20 346.07 600.50 335.60 600.80 345.37 601.10 340.62 601.40 346.66 601.70 340.77 602.00 348.99 602.30 340.33 602.60 346.47 602.90 340.41 603.20 347.35 603.50 338.97 603.80 347.37 604.10 340.19 604.40 345.25 604.70 340.76 605.00 346.32 605.30 339.58 605.60 347.10 605.90 341.03 606.20 347.70 606.50 340.72 606.80 349.00 607.10 341.23 607.40 345.85 607.70 341.58 608.00 347.17 608.30 339.50 608.60 345.86 608.90 340.81 609.20 347.17 609.50 342.18 609.80 349.59 610.10 338.04 610.40 345.68 610.70 340.26 611.00 347.48 611.30 338.04 611.60 348.45 611.90 333.56 612.20 351.03 612.50 345.39 612.80 350.17 613.10 348.18 613.40 351.03 613.70 348.96 614.00 351.66 614.30 349.04 614.60 352.20 614.90 348.89 615.20 353.16 615.50 347.42 615.80 353.52 616.10 347.55 616.40 353.93 616.70 349.57 617.00 351.90 617.30 349.76 617.60 352.79 617.90 349.57 618.20 352.60 618.50 348.05 618.80 352.33 619.10 346.94 619.40 351.75 619.70 349.77 620.00 352.26 620.30 348.99 620.60 352.40 620.90 347.25 621.20 353.02 621.50 348.94 621.80 352.20 622.10 347.00 622.40 352.32 622.70 349.74 623.00 353.00 623.30 348.97 623.60 353.89 623.90 349.20 624.20 351.93 624.50 349.50 624.80 353.61 625.10 347.61 625.40 352.32 625.70 349.01 626.00 351.67 626.30 348.70 626.60 352.69 626.90 349.93 627.20 352.03 627.50 349.20 627.80 353.78 628.10 346.94 628.40 353.47 628.70 347.89 629.00 352.12 629.30 349.88 629.60 353.17 629.90 349.64 630.20 352.74 630.50 348.85 630.80 352.07 631.10 346.88 631.40 353.14 631.70 348.89 632.00 352.18 632.30 348.62 632.60 352.65 632.90 349.07 633.20 352.95 633.50 349.26 633.80 352.67 634.10 347.96 634.40 352.64 634.70 349.98 635.00 353.28 635.30 347.53 635.60 351.66 635.90 348.75 636.20 351.59 636.50 348.85 636.80 352.63 637.10 347.46 637.40 351.15 637.70 346.01 638.00 351.88 638.30 348.54 638.60 352.43 638.90 347.63 639.20 352.04 639.50 346.20 639.80 352.63 640.10 348.02 640.40 351.15 640.70 346.74 641.00 350.74 641.30 347.97 641.60 350.66 641.90 347.98 642.20 350.96 642.50 348.18 642.80 351.30 643.10 348.24 643.40 351.18 643.70 348.81 644.00 351.51 644.30 348.73 644.60 352.06 644.90 349.42 645.20 351.73 645.50 349.28 645.80 353.11 646.10 349.20 646.40 351.91 646.70 350.04 647.00 352.51 647.30 349.59 647.60 351.94 647.90 350.20 648.20 352.40 648.50 349.95 648.80 352.96 649.10 350.43 649.40 352.39 649.70 348.87 650.00 352.71 650.30 348.62 650.60 352.90 650.90 350.14 651.20 352.38 651.50 349.07 651.80 352.48 652.10 350.26 652.40 352.23 652.70 350.16 653.00 352.24 653.30 349.16 653.60 353.37 653.90 350.35 654.20 352.38 654.50 350.38 654.80 352.60 655.10 350.40 655.40 353.13 655.70 350.28 656.00 352.35 656.30 350.24 656.60 352.83 656.90 350.60 657.20 352.68 657.50 350.18 657.80 352.14 658.10 348.64 658.40 352.90 658.70 350.76 659.00 352.76 659.30 348.79 659.60 352.28 659.90 350.86 660.20 352.57 660.50 349.98 660.80 353.06 661.10 350.28 661.40 353.58 661.70 350.34 662.00 353.50 662.30 348.79 662.60 352.72 662.90 350.67 663.20 352.80 663.50 350.64 663.80 352.71 664.10 348.75 664.40 352.37 664.70 350.10 665.00 353.48 665.30 350.60 665.60 352.42 665.90 350.02 666.20 352.88 666.50 350.86 666.80 352.89 667.10 349.57 667.40 352.91 667.70 350.91 668.00 353.17 668.30 349.55 668.60 353.60 668.90 350.28 669.20 352.30 669.50 350.46 669.80 352.21 670.10 349.95 670.40 352.48 670.70 350.47 671.00 352.22 671.30 349.95 671.60 353.65 671.90 349.94 672.20 352.95 672.50 350.10 672.80 352.61 673.10 350.88 673.40 352.96 673.70 350.37 674.00 352.17 674.30 348.94 674.60 353.17 674.90 350.13 675.20 352.37 675.50 348.63 675.80 352.18 676.10 350.31 676.40 352.49 676.70 350.72 677.00 353.83 677.30 349.24 677.60 352.39 677.90 348.65 678.20 353.96 678.50 350.12 678.80 352.98 679.10 350.54 679.40 353.29 679.70 349.34 680.00 352.90" fill="none" stroke="#0a7cc0" stroke-width="1.05" stroke-linejoin="round"/>
<text x="4.1" y="15.4" font-size="12.4" fill="#151515" stroke="#151515" stroke-width="0.42" textLength="12.5" lengthAdjust="spacingAndGlyphs">(a)</text>
<text x="3.8" y="208.6" font-size="12.4" fill="#151515" stroke="#151515" stroke-width="0.42" textLength="13.2" lengthAdjust="spacingAndGlyphs">(b)</text>
<text x="353.3" y="188.6" font-size="12.3" font-weight="bold" fill="#0d0d0d" stroke="#0d0d0d" stroke-width="0.4" textLength="28.8" lengthAdjust="spacingAndGlyphs">f [Hz]</text>
<text x="353" y="389.6" font-size="12.3" font-weight="bold" fill="#0d0d0d" stroke="#0d0d0d" stroke-width="0.4" textLength="28.6" lengthAdjust="spacingAndGlyphs">f [Hz]</text>
<text transform="translate(24.2,96.9) rotate(-90)" x="0" y="0" font-size="12.1" font-weight="bold" fill="#0d0d0d" stroke="#0d0d0d" stroke-width="0.4" textLength="27" lengthAdjust="spacingAndGlyphs">U [V]</text>
<text transform="translate(20.6,297.3) rotate(-90)" x="0" y="0" font-size="12.1" font-weight="bold" fill="#0d0d0d" stroke="#0d0d0d" stroke-width="0.4" textLength="27" lengthAdjust="spacingAndGlyphs">U [V]</text>
<line x1="324.0" y1="63.7" x2="595.1" y2="63.7" stroke="#888" stroke-width="0.85"/><path d="M320.0 63.7 L327.4 60.7 L327.4 66.7 Z" fill="#111"/><path d="M599.1 63.7 L591.7 60.7 L591.7 66.7 Z" fill="#111"/>
<text transform="translate(392.8,57.8) scale(1,1.04)" x="0" y="0" font-size="10" font-weight="bold" fill="#000" stroke="#000" stroke-width="0.45" textLength="120.3" lengthAdjust="spacingAndGlyphs">PLC PRIME 42 kHz – 89 kHz</text>
<line x1="335.8" y1="241.4" x2="602.2" y2="241.4" stroke="#888" stroke-width="0.85"/><path d="M331.8 241.4 L339.2 238.4 L339.2 244.4 Z" fill="#111"/><path d="M606.2 241.4 L598.8000000000001 238.4 L598.8000000000001 244.4 Z" fill="#111"/>
<text transform="translate(351,235.6) scale(1,1.005)" x="0" y="0" font-size="10" font-weight="bold" fill="#000" stroke="#000" stroke-width="0.45" textLength="119.6" lengthAdjust="spacingAndGlyphs">PLC PRIME 42 kHz – 89 kHz</text>
</svg>
</body></html>
